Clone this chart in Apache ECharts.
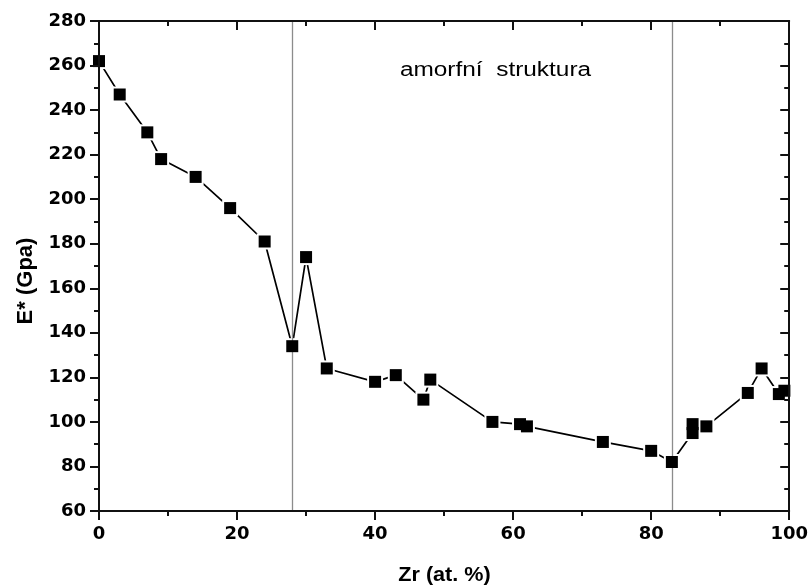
<!DOCTYPE html>
<html>
<head>
<meta charset="utf-8">
<script src="https://cdn.jsdelivr.net/npm/echarts@6/dist/echarts.min.js"></script>
<style>
  html, body { margin: 0; padding: 0; background: #fff; }
  #chart { width: 811px; height: 586px; }
</style>
</head>
<body>
<div id="chart"></div>
<script>
// Zr content (at. %) and reduced modulus E* (GPa)
const zr = [0, 3, 7, 9, 14, 19, 24, 28, 30, 33, 40, 43, 47, 48, 57, 61, 62, 73, 80, 83, 86, 86, 88, 94, 96, 98.5, 99.3];
const eStar = [262, 247, 230, 218, 210, 196, 181, 134, 174, 124, 118, 121, 110, 119, 100, 99, 98, 91, 87, 82, 95, 99, 98, 113, 124, 112.5, 114];

// boundaries of the amorphous region
const amorphousBounds = [28, 83];

const xTicks = { min: 0, max: 100, interval: 20 };
const yTicks = { min: 60, max: 280, interval: 20 };

const regionLabel = 'amorfní  struktura';
const xTitle = 'Zr (at. %)';
const yTitle = 'E* (Gpa)';

const points = zr.map((x, i) => [x, eStar[i]]);

const tickFont = {
  fontFamily: 'DejaVu Sans',
  fontWeight: 'bold',
  fontSize: 18,
  color: '#000'
};

function axisBase(extra) {
  return Object.assign({
    type: 'value',
    z: 10,
    axisLine: { show: true, onZero: false, lineStyle: { color: '#111', width: 2 } },
    axisTick: { show: true, length: 9, lineStyle: { color: '#111', width: 2 } },
    minorTick: { show: true, splitNumber: 2, length: 5, lineStyle: { color: '#111', width: 2 } },
    splitLine: { show: false },
    minorSplitLine: { show: false }
  }, extra);
}

const chart = echarts.init(document.getElementById('chart'), null, { renderer: 'canvas' });

chart.setOption({
  animation: false,
  backgroundColor: '#fff',
  grid: { left: 99, right: 21, top: 21, bottom: 75, containLabel: false },
  xAxis: [
    axisBase({
      position: 'bottom',
      min: xTicks.min, max: xTicks.max, interval: xTicks.interval,
      axisLabel: Object.assign({ margin: 14 }, tickFont)
    }),
    axisBase({
      position: 'top',
      min: xTicks.min, max: xTicks.max, interval: xTicks.interval,
      axisTick: { show: true, inside: true, length: 9, lineStyle: { color: '#111', width: 2 } },
      minorTick: { show: true, splitNumber: 2, length: 5, lineStyle: { color: '#111', width: 2 } },
      axisLabel: { show: false }
    })
  ],
  yAxis: [
    axisBase({
      position: 'left',
      min: yTicks.min, max: yTicks.max, interval: yTicks.interval,
      axisLabel: Object.assign({ margin: 13 }, tickFont)
    }),
    axisBase({
      position: 'right',
      min: yTicks.min, max: yTicks.max, interval: yTicks.interval,
      axisTick: { show: true, inside: true, length: 9, lineStyle: { color: '#111', width: 2 } },
      minorTick: { show: true, splitNumber: 2, length: 5, lineStyle: { color: '#111', width: 2 } },
      axisLabel: { show: false }
    })
  ],
  series: [
    {
      // connecting line
      type: 'line',
      data: points,
      z: 2,
      showSymbol: false,
      lineStyle: { color: '#000', width: 1.7 },
      markLine: {
        silent: true,
        symbol: ['none', 'none'],
        label: { show: false },
        lineStyle: { color: '#8c8c8c', width: 1.3, type: 'solid' },
        data: amorphousBounds.map(v => ({ xAxis: v }))
      }
    },
    {
      // white halo that opens a small gap in the line around each marker
      type: 'scatter',
      data: points,
      z: 3,
      symbol: 'rect',
      symbolSize: 16,
      itemStyle: { color: '#fff', opacity: 1 },
      silent: true
    },
    {
      type: 'scatter',
      data: points,
      z: 6,
      symbol: 'rect',
      symbolSize: 12,
      itemStyle: { color: '#000', opacity: 1 }
    }
  ],
  graphic: [
    {
      type: 'text',
      x: 495.5, y: 70,
      scaleX: 1.22,
      style: {
        text: regionLabel,
        font: '20px "Liberation Sans", Arial, sans-serif',
        fill: '#000',
        textAlign: 'center',
        textVerticalAlign: 'middle'
      }
    },
    {
      type: 'text',
      x: 444.5, y: 575,
      scaleX: 1.08,
      style: {
        text: xTitle,
        font: 'bold 20px "Liberation Sans", Arial, sans-serif',
        fill: '#000',
        textAlign: 'center',
        textVerticalAlign: 'middle'
      }
    },
    {
      type: 'text',
      x: 26, y: 281,
      rotation: Math.PI / 2,
      style: {
        text: yTitle,
        font: 'bold 22px "Liberation Sans", Arial, sans-serif',
        fill: '#000',
        textAlign: 'center',
        textVerticalAlign: 'middle'
      }
    }
  ]
});
</script>
</body>
</html>
